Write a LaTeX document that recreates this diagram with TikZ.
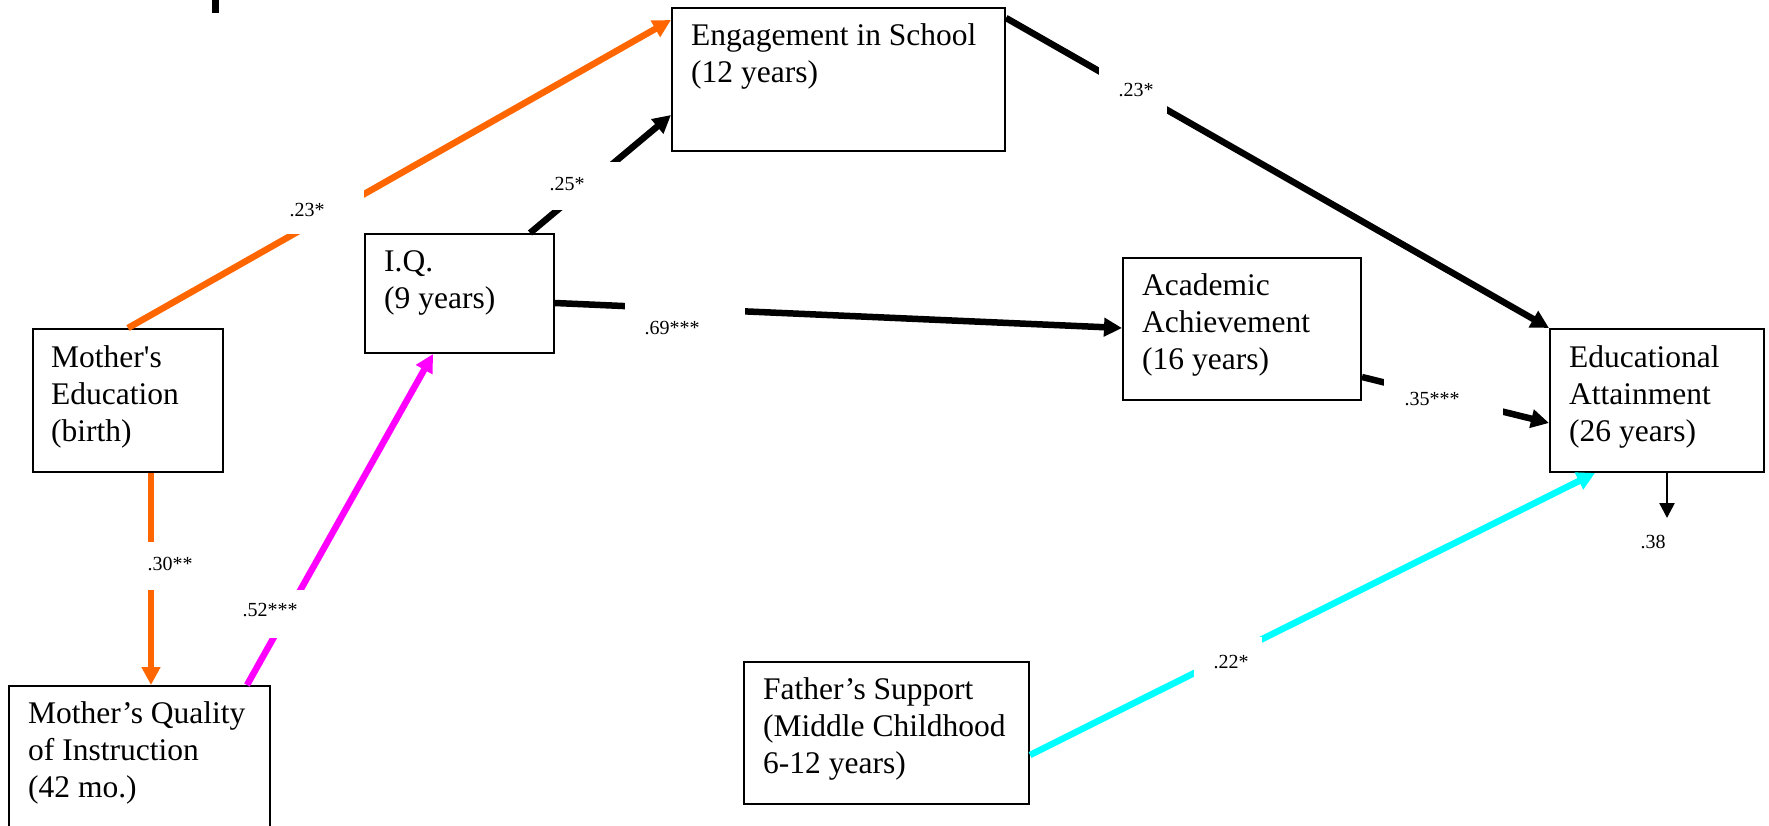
\documentclass[tikz,border=0pt]{standalone}
\usepackage{fontspec}
\newfontfamily\tnr{Liberation Serif}
\usetikzlibrary{arrows.meta,calc}
\definecolor{orng}{HTML}{FF6600}
\definecolor{mgnt}{HTML}{FF00FF}
\definecolor{cyn}{HTML}{00FFFF}
\newcommand\bt[1]{\begin{tabular}[t]{@{}l@{}}#1\end{tabular}}
\begin{document}
\begin{tikzpicture}[x=1pt,y=-1pt,
 box/.style={draw=black, line width=2pt, rectangle, inner sep=0pt, anchor=north west},
 txt/.style={anchor=base west, inner sep=0pt, font=\tnr\fontsize{31.5}{37}\selectfont},
 conn/.style={line width=6.5pt, -{Triangle[length=18pt,width=18pt]}},
 thinarrow/.style={line width=2.5pt, -{Triangle[length=15pt,width=15pt]}},
 gap/.style={fill=white, draw=none, inner sep=0pt, anchor=north west},
 lab/.style={inner sep=0pt, font=\tnr\fontsize{20}{24}\selectfont}]
\useasboundingbox (0,0) rectangle (1769,826);
\clip (0,0) rectangle (1769,826);
\fill[white] (0,0) rectangle (1769,826);
% stray mark at the top
\fill[black] (212,0) rectangle (219,13);
% boxes
\node[box, minimum width=190, minimum height=143] (me) at (32,328) {};
\node[box, minimum width=261, minimum height=170] (mq) at (8,685) {};
\node[box, minimum width=189, minimum height=119] (iq) at (364,233) {};
\node[box, minimum width=333, minimum height=143] (en) at (671,7) {};
\node[box, minimum width=238, minimum height=142] (aa) at (1122,257) {};
\node[box, minimum width=214, minimum height=143] (ea) at (1549,328) {};
\node[box, minimum width=285, minimum height=142] (fs) at (743,661) {};
% texts
\node[txt] (meT) at ($(me.north west)+(19,39)$) {\bt{Mother's\\Education\\(birth)}};
\node[txt] (mqT) at ($(mq.north west)+(20,38)$) {\bt{Mother’s Quality\\of Instruction\\(42 mo.)}};
\node[txt] (iqT) at ($(iq.north west)+(20,39)$) {\bt{I.Q.\\(9 years)}};
\node[txt] (enT) at ($(en.north west)+(20,39)$) {\bt{Engagement in School\\(12 years)}};
\node[txt] (aaT) at ($(aa.north west)+(20,38)$) {\bt{Academic\\Achievement\\(16 years)}};
\node[txt] (eaT) at ($(ea.north west)+(20,39)$) {\bt{Educational\\Attainment\\(26 years)}};
\node[txt] (fsT) at ($(fs.north west)+(20,38)$) {\bt{Father’s Support\\(Middle Childhood\\6-12 years)}};
% connectors
\draw[conn, orng] ($(me.north west)+(96,0)$) -- ($(en.north west)+(0,13)$);
\draw[conn, orng] ($(me.south west)+(119,0)$) -- ($(mq.north west)+(143,0)$);
\draw[conn, mgnt] ($(mq.north west)+(239,0)$) -- ($(iq.south west)+(69,0)$);
\draw[conn] ($(iq.north west)+(166,0)$) -- ($(en.north west)+(0,108)$);
\draw[conn] ($(iq.north east)+(0,70)$) -- ($(aa.north west)+(0,71)$);
\draw[conn] ($(en.north east)+(0,11)$) -- (ea.north west);
\draw[conn] ($(aa.north east)+(0,120)$) -- ($(ea.north west)+(0,95)$);
\draw[conn, cyn] ($(fs.north east)+(0,94)$) -- ($(ea.south west)+(46,0)$);
\coordinate (eaOut) at (1667,518);
\draw[thinarrow] ($(ea.south west)+(118,0)$) -- (eaOut);
% label gaps
\node[gap, minimum width=81, minimum height=44] (g1) at (283,190) {};
\node[gap, minimum width=77, minimum height=48] (g2) at (543,162) {};
\node[gap, minimum width=120, minimum height=48] (g3) at (625,298) {};
\node[gap, minimum width=68, minimum height=55] (g4) at (1099,60) {};
\node[gap, minimum width=119, minimum height=41] (g5) at (1384,377) {};
\node[gap, minimum width=56, minimum height=48] (g6) at (144,542) {};
\node[gap, minimum width=70, minimum height=48] (g7) at (236,590) {};
\node[gap, minimum width=68, minimum height=53] (g8) at (1194,637) {};
% labels
\node[lab] (l1) at (307,210) {.23*};
\node[lab] (l2) at (567,184) {.25*};
\node[lab] (l3) at (672,328) {.69***};
\node[lab] (l4) at (1136,90) {.23*};
\node[lab] (l5) at (1432,399) {.35***};
\node[lab] (l6) at (170,564) {.30**};
\node[lab] (l7) at (270,610) {.52***};
\node[lab] (l8) at (1231,662) {.22*};
\node[lab] (l9) at (1653,542) {.38};
\end{tikzpicture}
\end{document}
